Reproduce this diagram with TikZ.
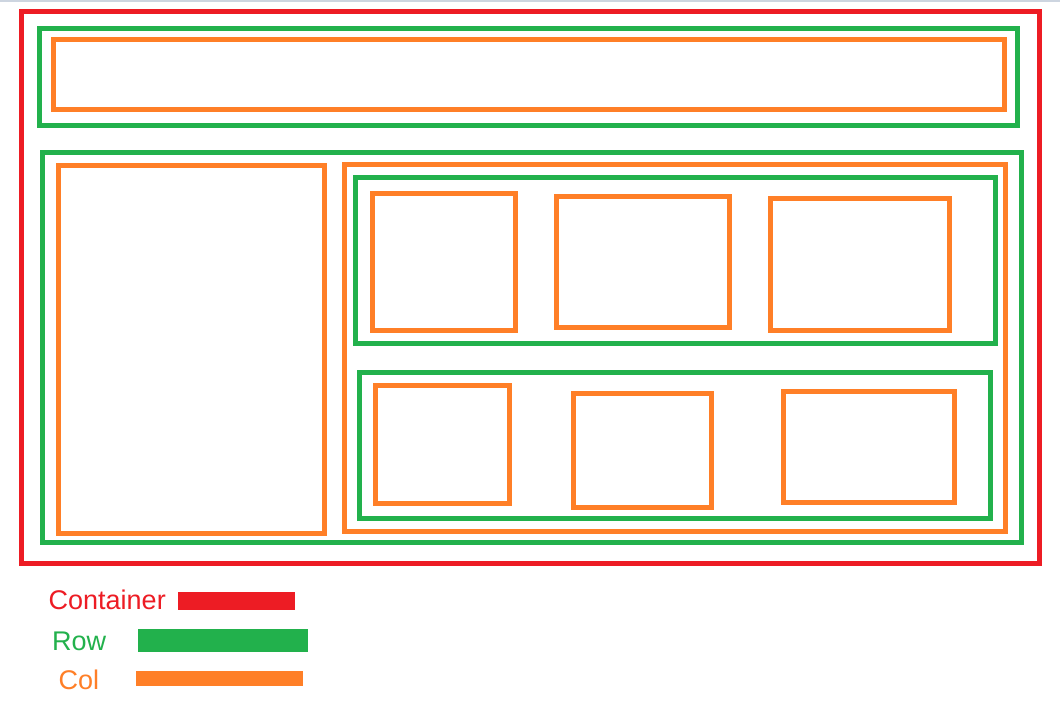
\documentclass[tikz,border=0pt]{standalone}
\usepackage{fontspec}
\setmainfont{Liberation Sans}
\definecolor{cred}{HTML}{ED1C24}
\definecolor{cgreen}{HTML}{22B14C}
\definecolor{corange}{HTML}{FF7F27}
\definecolor{cgray}{HTML}{CDD5E0}
\begin{document}
\begin{tikzpicture}[x=1pt,y=-1pt,
  contbox/.style={draw=cred,line width=5pt},
  rowbox/.style={draw=cgreen,line width=5pt},
  colbox/.style={draw=corange,line width=5pt},
  legtext/.style={anchor=base west,inner sep=0pt,font=\fontsize{27}{30}\selectfont}]
\useasboundingbox (0,0) rectangle (1060,718);
\fill[white] (0,0) rectangle (1060,718);
\fill[cgray] (0,0) rectangle (1060,2);
% container
\draw[contbox] (21.5,11.5) rectangle (1039.5,563.5);
% top row
\draw[rowbox] (39.5,28.5) rectangle (1017.5,125.5);
\draw[colbox] (53.5,39.5) rectangle (1004.5,109.5);
% second row
\draw[rowbox] (42.5,152.5) rectangle (1021.5,542.5);
\draw[colbox] (58.5,165.5) rectangle (324.5,533.5);
\draw[colbox] (344.5,164.5) rectangle (1005.5,531.5);
% inner row 1
\draw[rowbox] (355.5,177.5) rectangle (995,343.5);
\draw[colbox] (372.5,193.5) rectangle (515,330);
\draw[colbox] (556.5,196.5) rectangle (729.5,327.5);
\draw[colbox] (770.5,198.5) rectangle (949.5,330.5);
% inner row 2
\draw[rowbox] (359.5,372.5) rectangle (990.5,518);
\draw[colbox] (375.5,385.5) rectangle (509.5,503.5);
\draw[colbox] (573.5,393.5) rectangle (711.5,507.5);
\draw[colbox] (783.5,391.5) rectangle (954.5,502.5);
% legend
\node[legtext,text=cred] (lcont) at (48.5,609) {Container};
\node[legtext,text=cgreen] (lrow) at (52,650) {Row};
\node[legtext,text=corange] (lcol) at (58.5,689) {Col};
\fill[cred] (178,592) rectangle (295,610);
\fill[cgreen] (138,629) rectangle (308,652);
\fill[corange] (136,671) rectangle (303,686);
\end{tikzpicture}
\end{document}
